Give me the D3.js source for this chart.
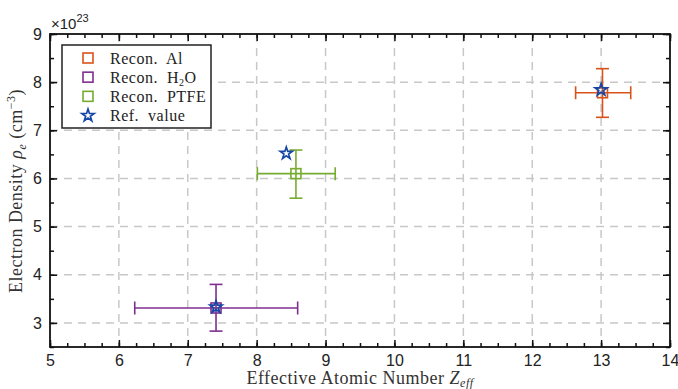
<!DOCTYPE html>
<html><head><meta charset="utf-8">
<script src="https://cdn.jsdelivr.net/npm/d3@7/dist/d3.min.js"></script>
<style>body{margin:0;background:#fff}svg{display:block}</style>
</head><body>
<svg id="c" width="678" height="389"></svg>
<script>
const series = ["Recon. Al", "Recon. H2O", "Recon. PTFE"];
const zEff = [13.02, 7.41, 8.57];
const rhoE = [7.78, 3.31, 6.10];
const zLow = [12.63, 6.23, 8.01];
const zHigh = [13.43, 8.595, 9.14];
const rhoLow = [7.27, 2.83, 5.59];
const rhoHigh = [8.28, 3.80, 6.59];
const colors = ["#D95319", "#7E2F8E", "#77AC30"];
const refZ = [13.0, 7.41, 8.43];
const refRho = [7.84, 3.33, 6.52];
const xTicks = [5,6,7,8,9,10,11,12,13,14];
const yTicks = [3,4,5,6,7,8,9];

const svg = d3.select("#c");
const L=50, R=670, T=34, B=347;
const x = d3.scaleLinear().domain([5,14]).range([L,R]);
const y = d3.scaleLinear().domain([2.5,9]).range([B,T]);

// grid
const g = svg.append("g");
g.selectAll(".gx").data(xTicks.slice(1,-1)).enter().append("line")
  .attr("x1",d=>x(d)).attr("x2",d=>x(d)).attr("y1",T).attr("y2",B)
  .attr("stroke","#c8c8c8").attr("stroke-width",1.5).attr("stroke-dasharray","8,6");
g.selectAll(".gy").data(yTicks.slice(0,-1)).enter().append("line")
  .attr("y1",d=>y(d)).attr("y2",d=>y(d)).attr("x1",L).attr("x2",R)
  .attr("stroke","#c8c8c8").attr("stroke-width",1.5).attr("stroke-dasharray","8,6");

// axes with inward ticks
const sans = "'Liberation Sans', Arial, sans-serif";
const xMinor = d3.range(5,14.001,0.25);
const yMinor = d3.range(2.5,9.001,0.5);
function axisStyle(sel){ sel.select(".domain").remove(); sel.selectAll("line").attr("stroke","#111").attr("stroke-width",1.5); }
const xa = svg.append("g").attr("transform",`translate(0,${B})`)
  .call(d3.axisBottom(x).tickValues(xTicks).tickSizeInner(-7).tickSizeOuter(0).tickPadding(8).tickFormat(d3.format("d")));
axisStyle(xa); xa.selectAll("text").attr("font-family",sans).attr("font-size",16).attr("fill","#222");
const xm = svg.append("g").attr("transform",`translate(0,${B})`)
  .call(d3.axisBottom(x).tickValues(xMinor).tickSize(-4).tickFormat(""));
axisStyle(xm);
const xt = svg.append("g").attr("transform",`translate(0,${T})`)
  .call(d3.axisTop(x).tickValues(xTicks).tickSize(-7).tickFormat(""));
axisStyle(xt);
const xtm = svg.append("g").attr("transform",`translate(0,${T})`)
  .call(d3.axisTop(x).tickValues(xMinor).tickSize(-4).tickFormat(""));
axisStyle(xtm);
const ya = svg.append("g").attr("transform",`translate(${L},0)`)
  .call(d3.axisLeft(y).tickValues(yTicks).tickSizeInner(-7).tickSizeOuter(0).tickPadding(8).tickFormat(d3.format("d")));
axisStyle(ya); ya.selectAll("text").attr("font-family",sans).attr("font-size",16).attr("fill","#222");
const ym = svg.append("g").attr("transform",`translate(${L},0)`)
  .call(d3.axisLeft(y).tickValues(yMinor).tickSize(-4).tickFormat(""));
axisStyle(ym);
const yr = svg.append("g").attr("transform",`translate(${R},0)`)
  .call(d3.axisRight(y).tickValues(yTicks).tickSize(-7).tickFormat(""));
axisStyle(yr);
const yrm = svg.append("g").attr("transform",`translate(${R},0)`)
  .call(d3.axisRight(y).tickValues(yMinor).tickSize(-4).tickFormat(""));
axisStyle(yrm);
svg.append("rect").attr("x",L).attr("y",T).attr("width",R-L).attr("height",B-T)
  .attr("fill","none").attr("stroke","#111").attr("stroke-width",1.8);

// exponent
const ex = svg.append("text").attr("x",L+1).attr("y",T-5).attr("font-family",sans).attr("font-size",15).attr("fill","#222");
ex.append("tspan").text("×10");
ex.append("tspan").attr("font-size",11).attr("dy",-7).text("23");

// error bars
const cap = 6.5;
const idx = d3.range(series.length);
const eb = svg.append("g");
idx.forEach(i=>{
  const c = colors[i], gg = eb.append("g").attr("stroke",c).attr("stroke-width",1.6).attr("fill","none");
  gg.append("line").attr("x1",x(zLow[i])).attr("x2",x(zHigh[i])).attr("y1",y(rhoE[i])).attr("y2",y(rhoE[i]));
  gg.append("line").attr("x1",x(zEff[i])).attr("x2",x(zEff[i])).attr("y1",y(rhoLow[i])).attr("y2",y(rhoHigh[i]));
  [zLow[i],zHigh[i]].forEach(v=>gg.append("line").attr("x1",x(v)).attr("x2",x(v)).attr("y1",y(rhoE[i])-cap).attr("y2",y(rhoE[i])+cap));
  [rhoLow[i],rhoHigh[i]].forEach(v=>gg.append("line").attr("y1",y(v)).attr("y2",y(v)).attr("x1",x(zEff[i])-cap).attr("x2",x(zEff[i])+cap));
  gg.append("rect").attr("x",x(zEff[i])-5).attr("y",y(rhoE[i])-5).attr("width",10).attr("height",10).attr("fill","none");
});

// stars
const starPath = d3.symbol().type(d3.symbolStar).size(46)();
const starColor = "#1747A6";
svg.append("g").selectAll("path").data(idx).enter().append("path")
  .attr("d",starPath).attr("transform",i=>`translate(${x(refZ[i])},${y(refRho[i])})`)
  .attr("fill","none").attr("stroke",starColor).attr("stroke-width",1.7).attr("stroke-linejoin","miter");

// legend
const serif = "'Liberation Serif', 'Times New Roman', serif";
const lg = svg.append("g");
lg.append("rect").attr("x",62).attr("y",45).attr("width",149).attr("height",83)
  .attr("fill","#fff").attr("stroke","#222").attr("stroke-width",1.5);
const ly = d3.scaleLinear().domain([0,3]).range([58,115.5]);
const labels = ["Recon. Al","Recon. H2O","Recon. PTFE","Ref. value"];
labels.forEach((lab,i)=>{
  if(i<3){
    lg.append("rect").attr("x",88-5).attr("y",ly(i)-5).attr("width",10).attr("height",10)
      .attr("fill","none").attr("stroke",colors[i]).attr("stroke-width",1.6);
  } else {
    lg.append("path").attr("d",starPath).attr("transform",`translate(88,${ly(i)})`)
      .attr("fill","none").attr("stroke",starColor).attr("stroke-width",1.7);
  }
  const t = lg.append("text").attr("x",110).attr("y",ly(i)+5.5).attr("font-family",serif).attr("font-size",16)
    .attr("letter-spacing",0.5).attr("fill","#222");
  if(lab==="Recon. H2O"){
    t.append("tspan").text("Recon.\u00a0 H");
    t.append("tspan").attr("font-size",10).attr("dy",3).text("2");
    t.append("tspan").attr("dy",-3).text("O");
  } else {
    t.text(lab.replace(" ","\u00a0 "));
  }
});

// axis labels
const xl = svg.append("text").attr("x",(L+R)/2).attr("y",384).attr("text-anchor","middle")
  .attr("font-family",serif).attr("font-size",18).attr("letter-spacing",0.5).attr("fill","#333");
xl.append("tspan").text("Effective Atomic Number ");
xl.append("tspan").attr("font-style","italic").text("Z");
xl.append("tspan").attr("font-style","italic").attr("font-size",12).attr("dy",3).text("eff");
const yl = svg.append("text").attr("transform",`translate(22,191) rotate(-90)`).attr("text-anchor","middle")
  .attr("font-family",serif).attr("font-size",18).attr("letter-spacing",0.5).attr("fill","#333");
yl.append("tspan").text("Electron Density ");
yl.append("tspan").attr("font-style","italic").text("ρ");
yl.append("tspan").attr("font-style","italic").attr("font-size",12).attr("dy",4).text("e");
yl.append("tspan").attr("dy",-4).text(" (cm");
yl.append("tspan").attr("font-size",12).attr("dy",-7).text("−3");
yl.append("tspan").attr("dy",7).text(")");
</script>
</body></html>
